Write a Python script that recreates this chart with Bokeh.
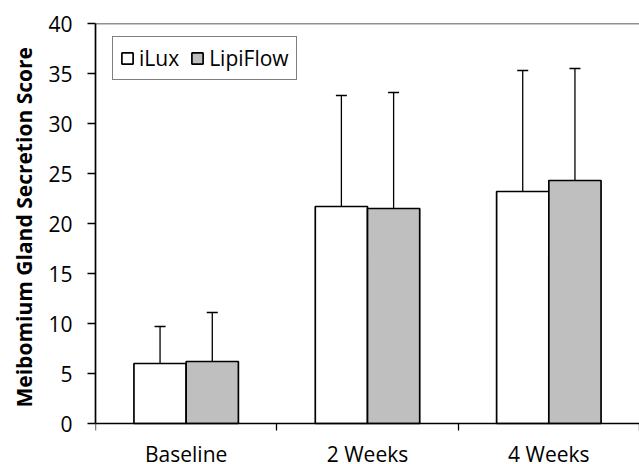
from bokeh.plotting import figure
from bokeh.models import (ColumnDataSource, FixedTicker, Whisker, TeeHead, Span,
                          Legend, LegendItem, Title, LinearAxis)
from bokeh.transform import dodge
from bokeh.embed import file_html
from bokeh.resources import INLINE
import numpy as np

categories = ["Baseline", "2 Weeks", "4 Weeks"]
series = ["iLux", "LipiFlow"]
ilux_mean = [6.0, 21.7, 23.2]
ilux_sd = [3.7, 11.1, 12.1]
lipi_mean = [6.2, 21.5, 24.3]
lipi_sd = [4.9, 11.6, 11.2]
y_ticks = [0, 5, 10, 15, 20, 25, 30, 35, 40]
y_title = "Meibomium Gland Secretion Score"

FONT = "Open Sans"
BAR_W = 0.288

pos = np.arange(len(categories)) + 0.5
src = ColumnDataSource(dict(
    x=pos,
    ilux=ilux_mean, ilux_up=np.array(ilux_mean) + np.array(ilux_sd),
    lipi=lipi_mean, lipi_up=np.array(lipi_mean) + np.array(lipi_sd),
))

# the frame reaches the bottom of the canvas so the category names
# (drawn by an axis fixed at y = 0) are not clipped
p = figure(width=639, height=464, x_range=(0, 3), y_range=(-4.1, 40),
           output_backend="svg", toolbar_location=None,
           min_border_left=95, min_border_right=0, min_border_top=23,
           min_border_bottom=0)
p.outline_line_color = None
p.xgrid.grid_line_color = None
p.ygrid.grid_line_color = None
p.background_fill_color = "white"

r1 = p.vbar(x=dodge("x", -BAR_W / 2), top="ilux", bottom=0, width=BAR_W, source=src,
            fill_color="white", line_color="black", line_width=1.7)
r2 = p.vbar(x=dodge("x", BAR_W / 2), top="lipi", bottom=0, width=BAR_W, source=src,
            fill_color="#bfbfbf", line_color="black", line_width=1.7)

for base, lo, up in [(-BAR_W / 2, "ilux", "ilux_up"), (BAR_W / 2, "lipi", "lipi_up")]:
    w = Whisker(base=dodge("x", base), lower=lo, upper=up, source=src,
                dimension="height", line_color="black", line_width=1.3,
                lower_head=None,
                upper_head=TeeHead(size=11, line_color="black", line_width=1.3))
    p.add_layout(w)

p.add_layout(Span(location=40, dimension="width", line_color="#222222", line_width=1.3))

# x axis at y = 0: tick marks at category boundaries, names centred
p.xaxis[0].visible = False
xax = LinearAxis(fixed_location=0,
                 ticker=FixedTicker(ticks=list(pos), minor_ticks=[0, 1, 2, 3]),
                 major_label_overrides={float(v): c for v, c in zip(pos, categories)})
xax.major_label_text_font = FONT
xax.major_label_text_font_size = "21px"
xax.major_label_text_color = "black"
xax.major_label_standoff = 9
xax.major_tick_line_color = None
xax.major_tick_out = 0
xax.major_tick_in = 0
xax.minor_tick_out = 7
xax.minor_tick_in = 0
xax.minor_tick_line_color = "black"
xax.minor_tick_line_width = 1.3
xax.axis_line_color = "black"
xax.axis_line_width = 1.7
p.add_layout(xax, "below")

# y axis
p.yaxis.bounds = (0, 40)
p.yaxis.ticker = FixedTicker(ticks=y_ticks)
p.yaxis.minor_tick_line_color = None
p.yaxis.major_tick_out = 8
p.yaxis.major_tick_in = 0
p.yaxis.major_tick_line_width = 1.3
p.yaxis.major_tick_line_color = "black"
p.yaxis.major_label_standoff = 15
p.yaxis.major_label_text_font = FONT
p.yaxis.major_label_text_font_size = "21px"
p.yaxis.major_label_text_color = "black"
p.yaxis.axis_line_color = "black"
p.yaxis.axis_line_width = 1.7

p.add_layout(Title(text=y_title, align="left", offset=57, standoff=15,
                   text_font=FONT, text_font_style="bold", text_font_size="21px",
                   text_color="black"), "left")

legend = Legend(items=[LegendItem(label=series[0], renderers=[r1]),
                       LegendItem(label=series[1], renderers=[r2])],
                orientation="horizontal", location=(17, 384),
                label_text_font=FONT, label_text_font_size="21px",
                label_text_color="black",
                glyph_width=14, glyph_height=14, label_standoff=5, spacing=11,
                padding=7, margin=0, label_height=20,
                border_line_color="black", border_line_width=1.3,
                background_fill_color="white", background_fill_alpha=1)
p.add_layout(legend)

open("out.html", "w").write(file_html(p, INLINE))
